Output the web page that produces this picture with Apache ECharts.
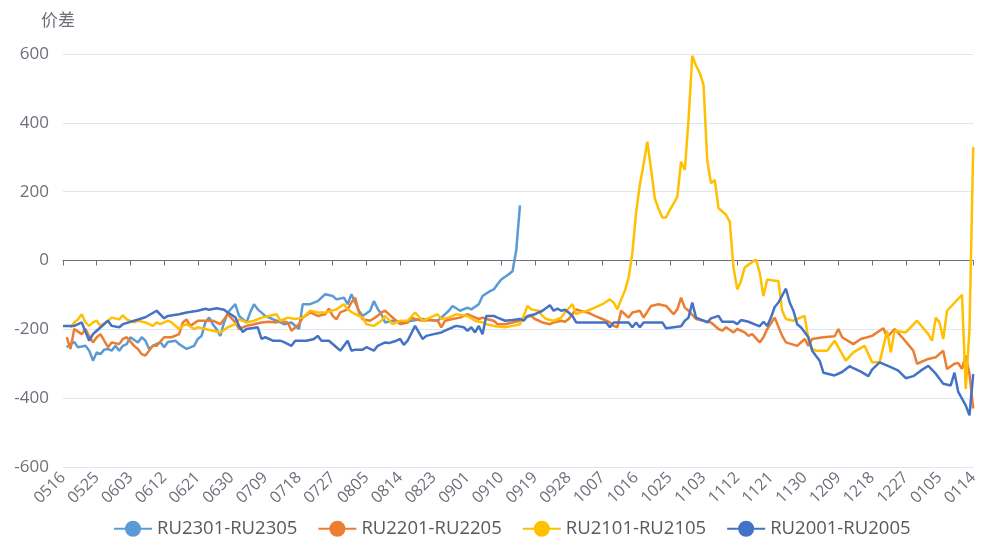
<!DOCTYPE html>
<html><head><meta charset="utf-8">
<script src="https://cdn.jsdelivr.net/npm/echarts@6/dist/echarts.min.js"></script>
<style>html,body{margin:0;padding:0;background:#fff}#c{width:981px;height:544px}</style>
</head><body><div id="c"></div>
<script>
// categories: every calendar day from 05-16 to 01-14 (MMDD)
const startDay = Date.UTC(2022, 4, 16);
const dayCount = 244;
const categories = [];
for (let i = 0; i < dayCount; i++) {
  const d = new Date(startDay + i * 86400000);
  categories.push(String(d.getUTCMonth() + 1).padStart(2, '0') + String(d.getUTCDate()).padStart(2, '0'));
}
const seriesNames = ['RU2301-RU2305', 'RU2201-RU2205', 'RU2101-RU2105', 'RU2001-RU2005'];
const yTicks = { min: -600, max: 600, interval: 200 };

// [day index, spread]
const ru2301 = [[1,-252],[2,-243],[3,-237],[4,-252],[6,-248],[7,-262],[8,-291],[9,-267],[10,-272],[11,-259],[12,-257],[13,-262],[14,-248],[15,-262],[16,-248],[17,-243],[18,-223],[20,-238],[21,-223],[22,-233],[23,-257],[24,-248],[26,-237],[27,-252],[28,-237],[30,-233],[31,-243],[33,-257],[35,-248],[36,-228],[37,-219],[38,-180],[39,-166],[40,-185],[41,-200],[42,-219],[43,-180],[44,-151],[46,-127],[47,-161],[49,-180],[50,-150],[51,-127],[52,-142],[54,-161],[55,-166],[57,-175],[59,-185],[61,-180],[63,-199],[64,-127],[66,-127],[68,-118],[70,-98],[72,-103],[73,-113],[75,-108],[76,-127],[77,-98],[79,-146],[80,-161],[82,-146],[83,-118],[84,-140],[85,-156],[86,-180],[88,-175],[91,-180],[93,-175],[96,-170],[100,-175],[101,-166],[103,-146],[104,-132],[106,-146],[108,-137],[109,-142],[111,-127],[112,-103],[114,-89],[115,-84],[116,-69],[117,-55],[119,-40],[120,-31],[121,30],[122,160]];

const ru2201 = [[1,-223],[2,-257],[3,-199],[5,-214],[6,-199],[7,-220],[8,-238],[9,-223],[10,-214],[12,-252],[13,-238],[15,-243],[16,-228],[17,-223],[19,-248],[20,-257],[21,-272],[22,-276],[24,-248],[25,-248],[27,-223],[29,-223],[31,-214],[32,-180],[33,-171],[34,-190],[36,-175],[39,-175],[40,-175],[42,-185],[44,-156],[46,-180],[47,-199],[49,-190],[51,-185],[53,-180],[55,-178],[57,-180],[58,-175],[60,-180],[61,-204],[63,-185],[64,-166],[66,-151],[68,-161],[70,-156],[71,-140],[72,-161],[73,-171],[74,-151],[76,-142],[77,-122],[78,-108],[79,-151],[80,-171],[82,-175],[84,-161],[85,-151],[86,-146],[87,-156],[89,-175],[90,-185],[92,-180],[93,-166],[94,-170],[96,-175],[98,-173],[100,-175],[101,-194],[102,-175],[104,-170],[106,-166],[108,-156],[109,-161],[111,-170],[112,-166],[113,-170],[115,-175],[116,-185],[118,-185],[120,-180],[122,-175],[123,-166],[125,-161],[126,-170],[128,-180],[130,-185],[131,-180],[133,-175],[134,-178],[135,-170],[137,-142],[138,-146],[140,-151],[142,-161],[144,-170],[146,-180],[147,-190],[148,-194],[149,-146],[151,-166],[152,-151],[154,-146],[155,-166],[157,-132],[159,-127],[161,-132],[163,-156],[164,-142],[165,-108],[166,-137],[167,-146],[169,-170],[171,-175],[173,-180],[175,-199],[176,-204],[177,-194],[179,-209],[180,-199],[182,-209],[183,-219],[184,-214],[186,-238],[187,-223],[188,-199],[190,-166],[192,-219],[193,-238],[196,-248],[198,-228],[199,-248],[200,-228],[203,-223],[206,-220],[207,-199],[208,-223],[211,-243],[213,-228],[216,-219],[219,-197],[220,-223],[222,-199],[224,-223],[227,-262],[228,-300],[231,-286],[233,-281],[235,-262],[236,-315],[238,-300],[239,-298],[240,-315],[241,-276],[242,-330],[243,-430]];

const ru2101 = [[2,-195],[3,-180],[4,-171],[5,-156],[6,-180],[7,-190],[8,-180],[9,-175],[10,-190],[12,-175],[13,-166],[15,-171],[16,-159],[17,-171],[19,-180],[20,-175],[22,-180],[24,-190],[25,-180],[26,-185],[28,-175],[29,-180],[31,-199],[32,-190],[33,-185],[35,-199],[36,-194],[38,-199],[40,-204],[42,-209],[44,-194],[46,-185],[47,-171],[49,-180],[51,-175],[53,-166],[55,-161],[57,-156],[58,-175],[60,-166],[62,-170],[64,-166],[66,-146],[68,-151],[70,-151],[72,-145],[73,-142],[75,-127],[76,-142],[78,-156],[80,-166],[81,-185],[83,-190],[85,-175],[86,-161],[88,-185],[90,-175],[92,-175],[94,-151],[96,-175],[98,-166],[100,-156],[101,-170],[103,-166],[105,-156],[108,-161],[110,-175],[112,-180],[113,-185],[115,-190],[118,-194],[120,-190],[122,-185],[123,-161],[124,-132],[125,-142],[127,-146],[128,-161],[129,-170],[131,-175],[133,-166],[134,-151],[136,-127],[137,-156],[138,-151],[140,-146],[142,-137],[144,-127],[146,-113],[147,-122],[148,-142],[149,-113],[150,-88],[151,-50],[152,22],[153,140],[154,220],[155,280],[156,345],[157,265],[158,180],[159,150],[160,125],[161,125],[162,147],[163,165],[164,185],[165,287],[166,263],[167,410],[168,595],[169,566],[170,545],[171,510],[172,290],[173,224],[174,234],[175,152],[177,133],[178,113],[179,-20],[180,-84],[181,-60],[182,-20],[183,-12],[185,3],[186,-36],[187,-103],[188,-55],[191,-60],[192,-146],[193,-170],[195,-175],[196,-170],[198,-161],[199,-230],[200,-257],[201,-262],[204,-262],[206,-233],[209,-291],[211,-267],[214,-248],[216,-296],[218,-296],[220,-204],[221,-267],[222,-204],[225,-209],[228,-175],[231,-214],[232,-233],[233,-166],[234,-180],[235,-228],[236,-146],[240,-100],[241,-373],[242,-200],[243,330]];

const ru2001 = [[0,-190],[3,-190],[5,-180],[7,-233],[8,-214],[9,-204],[12,-175],[13,-190],[15,-194],[16,-185],[19,-175],[22,-165],[25,-146],[27,-168],[28,-161],[31,-156],[33,-151],[36,-146],[38,-140],[39,-143],[41,-139],[43,-143],[44,-151],[46,-165],[47,-190],[48,-208],[49,-199],[52,-194],[53,-228],[54,-223],[56,-233],[58,-233],[59,-237],[61,-248],[62,-233],[65,-233],[67,-228],[68,-219],[69,-233],[71,-233],[73,-252],[74,-262],[76,-233],[77,-262],[78,-259],[80,-259],[81,-252],[83,-262],[84,-248],[86,-238],[87,-240],[89,-233],[90,-228],[91,-245],[92,-233],[94,-190],[96,-228],[97,-219],[99,-214],[101,-209],[102,-204],[104,-194],[105,-190],[107,-194],[108,-204],[109,-194],[110,-209],[111,-190],[112,-214],[113,-161],[115,-161],[116,-166],[118,-175],[120,-173],[122,-170],[123,-175],[124,-161],[126,-156],[128,-146],[130,-130],[131,-146],[132,-140],[133,-146],[134,-143],[135,-151],[136,-161],[137,-180],[145,-180],[146,-194],[147,-180],[151,-180],[152,-194],[153,-180],[154,-194],[155,-180],[160,-180],[161,-197],[163,-194],[165,-191],[166,-175],[167,-166],[168,-122],[169,-166],[171,-175],[172,-180],[173,-168],[175,-161],[176,-178],[179,-178],[180,-185],[181,-173],[183,-178],[185,-187],[186,-191],[187,-178],[188,-190],[189,-166],[190,-135],[191,-122],[193,-82],[194,-122],[195,-146],[196,-185],[197,-194],[199,-223],[200,-262],[202,-291],[203,-326],[206,-334],[208,-324],[210,-307],[211,-313],[213,-323],[215,-336],[216,-317],[218,-296],[221,-310],[223,-320],[225,-342],[227,-336],[229,-320],[231,-306],[233,-329],[235,-358],[237,-363],[238,-326],[239,-382],[241,-421],[242,-450],[243,-330]];

const seriesData = [ru2301, ru2201, ru2101, ru2001];
const colors = ['#5B9BD5', '#ED7D31', '#FFC000', '#4472C4'];
const FONT = '"Open Sans", "Noto Sans CJK SC", sans-serif';

const chart = echarts.init(document.getElementById('c'), null, { renderer: 'canvas' });
chart.setOption({
  animation: false,
  color: colors,
  textStyle: { fontFamily: FONT },
  grid: { left: 63, right: 2, top: 54, bottom: 77, containLabel: false },
  legend: {
    bottom: 1, left: 108, itemWidth: 38, itemHeight: 20, itemGap: 20,
    textStyle: { fontSize: 18.5, color: '#595959', fontFamily: FONT },
    data: seriesNames
  },
  xAxis: [{
    type: 'category', data: categories, boundaryGap: false,
    axisLine: { show: false, onZero: false }, axisTick: { show: false },
    axisLabel: { interval: 8, rotate: 45, fontSize: 16, color: '#6E7079', fontFamily: FONT, margin: 8 },
    splitLine: { show: false }
  }, {
    type: 'category', data: categories, boundaryGap: false, position: 'bottom',
    axisLine: { show: true, onZero: true, lineStyle: { color: '#6E7079' } },
    axisTick: { show: true, interval: 8, length: 5 },
    axisLabel: { show: false }, splitLine: { show: false }
  }],
  yAxis: {
    type: 'value', min: yTicks.min, max: yTicks.max, interval: yTicks.interval,
    name: '价差', nameGap: 24,
    nameTextStyle: { fontSize: 17, color: '#6E7079', fontFamily: FONT, padding: [0, 10, 0, 0] },
    axisLine: { show: false }, axisTick: { show: false },
    axisLabel: { fontSize: 17, color: '#6E7079', fontFamily: FONT, margin: 14 },
    splitLine: { lineStyle: { color: '#E0E6F1' } }
  },
  series: seriesNames.map((n, k) => ({
    name: n, type: 'line', xAxisIndex: 0, data: seriesData[k],
    symbol: 'circle', showSymbol: false, smooth: false,
    lineStyle: { width: 2.5, color: colors[k] }, itemStyle: { color: colors[k] }
  }))
});
</script></body></html>
